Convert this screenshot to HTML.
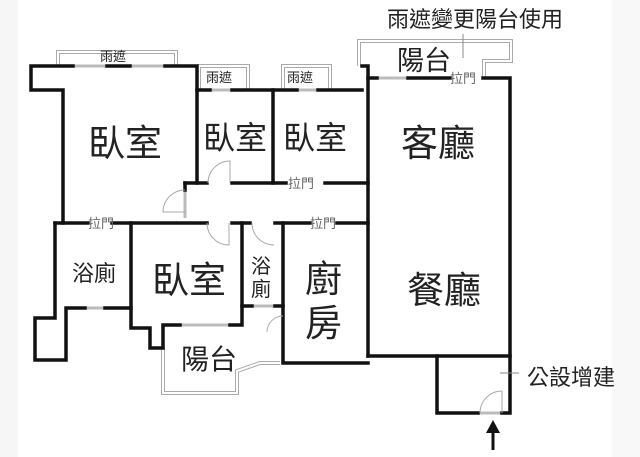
<!DOCTYPE html>
<html><head><meta charset="utf-8"><style>
body{margin:0;background:#fff}
svg{display:block}
text{font-family:"Liberation Sans","Noto Sans CJK TC",sans-serif;fill:#222}
</style></head><body>
<svg width="640" height="457" viewBox="0 0 640 457" xmlns="http://www.w3.org/2000/svg">
<rect x="0" y="0" width="18" height="457" fill="#f6f6f6"/>
<rect x="612" y="0" width="28" height="457" fill="#f8f8f8"/>
<!-- rain/balcony outlines (double thin lines) -->
<g fill="none" stroke="#aaa" stroke-width="4">
<polyline points="58,66 58,52 176,52 176,66"/>
<polyline points="199,90 199,66 248,66 248,90"/>
<polyline points="283,90 283,66 330,66 330,90"/>
<polyline points="359,66 359,41 511,41 511,61 484,61 484,78"/>
<polyline points="163,348 163,393 237,393 237,371 260,363 280,363"/>
</g>
<g fill="none" stroke="#fff" stroke-width="2">
<polyline points="58,66 58,52 176,52 176,66"/>
<polyline points="199,90 199,66 248,66 248,90"/>
<polyline points="283,90 283,66 330,66 330,90"/>
<polyline points="359,66 359,41 511,41 511,61 484,61 484,78"/>
<polyline points="163,348 163,393 237,393 237,371 260,363 280,363"/>
</g>
<!-- windows (thin) -->
<g stroke="#bbb" stroke-width="3">
<line x1="73" y1="66" x2="107" y2="66"/><line x1="130" y1="66" x2="165" y2="66"/>
<line x1="210" y1="90" x2="232" y2="90"/><line x1="297" y1="90" x2="318" y2="90"/>
<line x1="377" y1="78" x2="408" y2="78"/>
<line x1="85" y1="308" x2="105" y2="308"/>
<line x1="180" y1="325" x2="230" y2="325"/>
<line x1="252" y1="306" x2="275" y2="306"/>
<line x1="478" y1="413" x2="502" y2="413"/>
<line x1="185" y1="190" x2="185" y2="218"/>
</g>
<!-- walls -->
<g fill="none" stroke="#111" stroke-width="3.5" stroke-linecap="square">
<polyline points="73,66 31,66 31,90 63,90 63,223"/>
<line x1="107" y1="66" x2="130" y2="66"/>
<polyline points="165,66 197,66 197,183"/>
<line x1="197" y1="90" x2="210" y2="90"/><line x1="232" y1="90" x2="297" y2="90"/>
<line x1="318" y1="90" x2="362" y2="90"/>
<polyline points="273,90 273,183"/>
<polyline points="362,66 368,66 368,356"/>
<line x1="368" y1="78" x2="377" y2="78"/><line x1="408" y1="78" x2="450" y2="78"/>
<polyline points="483,78 510,78 510,413 502,413"/>
<line x1="185" y1="183" x2="207" y2="183"/><line x1="232" y1="183" x2="286" y2="183"/>
<line x1="325" y1="183" x2="368" y2="183"/>
<line x1="185" y1="183" x2="185" y2="190"/>
<line x1="55" y1="223" x2="88" y2="223"/><line x1="112" y1="223" x2="207" y2="223"/>
<line x1="232" y1="223" x2="250" y2="223"/><line x1="275" y1="223" x2="310" y2="223"/>
<line x1="337" y1="223" x2="368" y2="223"/>
<polyline points="55,223 55,318 35,318 35,360 66,360 66,308 85,308"/>
<line x1="105" y1="308" x2="131" y2="308"/>
<polyline points="131,223 131,328 150,328 150,348 163,348 163,325 180,325"/>
<polyline points="230,325 242,325 242,223"/>
<polyline points="242,306 252,306"/><line x1="275" y1="306" x2="283" y2="306"/>
<polyline points="283,223 283,363 368,363"/>
<line x1="368" y1="356" x2="510" y2="356"/>
<polyline points="437,356 437,413 478,413"/>
</g>
<!-- door swings -->
<g fill="none" stroke="#aaa" stroke-width="1">
<path d="M208,183 A22,22 0 0 1 230,161 L230,183"/>
<path d="M185,190 A22,22 0 0 0 163,212 L185,212"/>
<path d="M207,223 A22,22 0 0 0 229,245 L229,223"/>
<path d="M252,223 A22,22 0 0 0 274,245"/>
<path d="M283,316 A16,16 0 0 0 267,332"/>
<path d="M480,413 A22,22 0 0 1 502,391 L502,413"/>
</g>
<line x1="500" y1="373" x2="519" y2="373" stroke="#888" stroke-width="1"/>
<line x1="463" y1="34" x2="463" y2="58" stroke="#888" stroke-width="1"/>
<!-- arrow -->
<line x1="493" y1="431" x2="493" y2="450" stroke="#111" stroke-width="3"/>
<polygon points="486,433 493,420 500,433" fill="#111"/>
<!-- labels -->
<g font-size="37">
<text x="88" y="156">臥室</text>
<text x="401" y="156">客廳</text>
<text x="152" y="293">臥室</text>
<text x="407" y="303">餐廳</text>
<text x="305" y="292">廚</text>
<text x="305" y="336">房</text>
</g>
<g font-size="32">
<text x="203" y="149">臥室</text>
<text x="283" y="149">臥室</text>
</g>
<text x="397" y="70" font-size="27">陽台</text>
<text x="181" y="369" font-size="28">陽台</text>
<g font-size="22">
<text x="72" y="281">浴廁</text>
<text x="387" y="27">雨遮變更陽台使用</text>
<text x="527" y="385">公設增建</text>
</g>
<g font-size="20">
<text x="251" y="273">浴</text>
<text x="251" y="296">廁</text>
</g>
<g font-size="13" fill="#555">
<text x="100" y="61">雨遮</text>
<text x="206" y="82">雨遮</text>
<text x="287" y="82">雨遮</text>
<text x="450" y="83" style="fill:#666">拉門</text>
<text x="288" y="188" style="fill:#666">拉門</text>
<text x="88" y="228" style="fill:#666">拉門</text>
<text x="310" y="228" style="fill:#666">拉門</text>
</g>
</svg>
</body></html>
